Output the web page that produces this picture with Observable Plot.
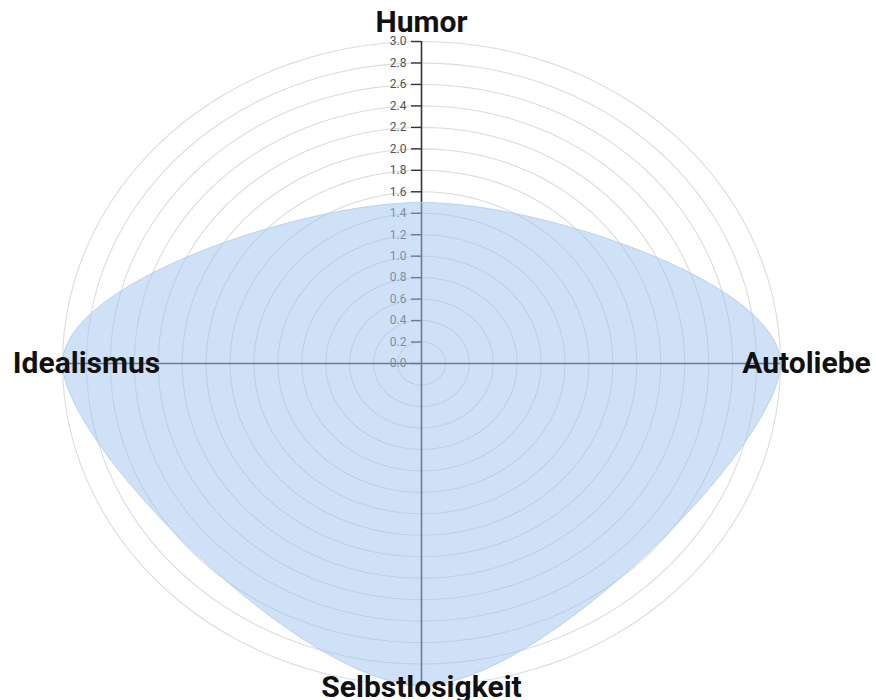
<!DOCTYPE html>
<html>
<head>
<meta charset="utf-8">
<script src="https://cdn.jsdelivr.net/npm/d3@7"></script>
<script src="https://cdn.jsdelivr.net/npm/@observablehq/plot@0.6"></script>
<style>
  html, body { margin: 0; padding: 0; background: #fff; }
  #chart svg { display: block; }
</style>
</head>
<body>
<div id="chart"></div>
<script>
const categories = ["Humor", "Autoliebe", "Selbstlosigkeit", "Idealismus"];
const values = [1.5, 3.0, 3.0, 3.0];
const tickValues = [0, 0.2, 0.4, 0.6, 0.8, 1.0, 1.2, 1.4, 1.6, 1.8, 2.0, 2.2, 2.4, 2.6, 2.8, 3.0];
const maxValue = 3.0;

const angleOf = i => Math.PI / 2 - i * 2 * Math.PI / categories.length;

const shape = categories.map((c, i) => ({
  name: c,
  x: values[i] * Math.cos(angleOf(i)),
  y: values[i] * Math.sin(angleOf(i))
}));

const rings = tickValues.filter(t => t > 0).flatMap(r =>
  d3.range(0, 361, 3).map(a => ({
    r,
    x: r * Math.cos(a * Math.PI / 180),
    y: r * Math.sin(a * Math.PI / 180)
  }))
);

const labels = categories.map((c, i) => ({
  name: c,
  x: maxValue * Math.cos(angleOf(i)),
  y: maxValue * Math.sin(angleOf(i))
}));
// pixel offsets of each category label from its axis end
const labelOffset = {
  "Humor": [0, -10, "bottom"],
  "Autoliebe": [26, 0, "middle"],
  "Selbstlosigkeit": [0, 11, "bottom"],
  "Idealismus": [24, 0, "middle"]
};

const labelMarks = labels.map(l => Plot.text([l], {
  x: "x", y: "y", text: "name",
  dx: labelOffset[l.name][0],
  dy: labelOffset[l.name][1],
  lineAnchor: labelOffset[l.name][2],
  fontSize: 30,
  fontWeight: "bold",
  fill: "#111",
  textAnchor: "middle"
}));

const chart = Plot.plot({
  width: 876,
  height: 700,
  marginLeft: 421,
  marginRight: 96,
  marginTop: 41,
  marginBottom: 15,
  style: { fontFamily: "Roboto, 'Liberation Sans', sans-serif", background: "#fff" },
  x: { domain: [-maxValue, maxValue], range: [62, 780], axis: null },
  y: { domain: [-maxValue, maxValue], range: [685, 41], axis: null },
  marks: [
    Plot.line(rings, { x: "x", y: "y", z: "r", stroke: "#dcdcdc", strokeWidth: 1.1, curve: "linear" }),
    Plot.ruleX([0], { y1: -maxValue, y2: maxValue, stroke: "#2f3640", strokeWidth: 1.6 }),
    Plot.ruleY([0], { x1: -maxValue, x2: maxValue, stroke: "#2f3640", strokeWidth: 1.6 }),
    Plot.axisY({
      anchor: "left",
      ticks: tickValues,
      tickFormat: d3.format(".1f"),
      tickSize: 10,
      tickPadding: 5,
      fontSize: 12,
      stroke: "#2f3640",
      strokeWidth: 1.4,
      fill: "#555",
      label: null
    }),
    Plot.line(shape, {
      x: "x", y: "y",
      curve: "cardinal-closed",
      tension: 0,
      fill: "#a0c4f0",
      fillOpacity: 0.5,
      stroke: "#b7d2f3",
      strokeWidth: 1
    }),
    ...labelMarks
  ]
});

document.getElementById("chart").appendChild(chart);
</script>
</body>
</html>
